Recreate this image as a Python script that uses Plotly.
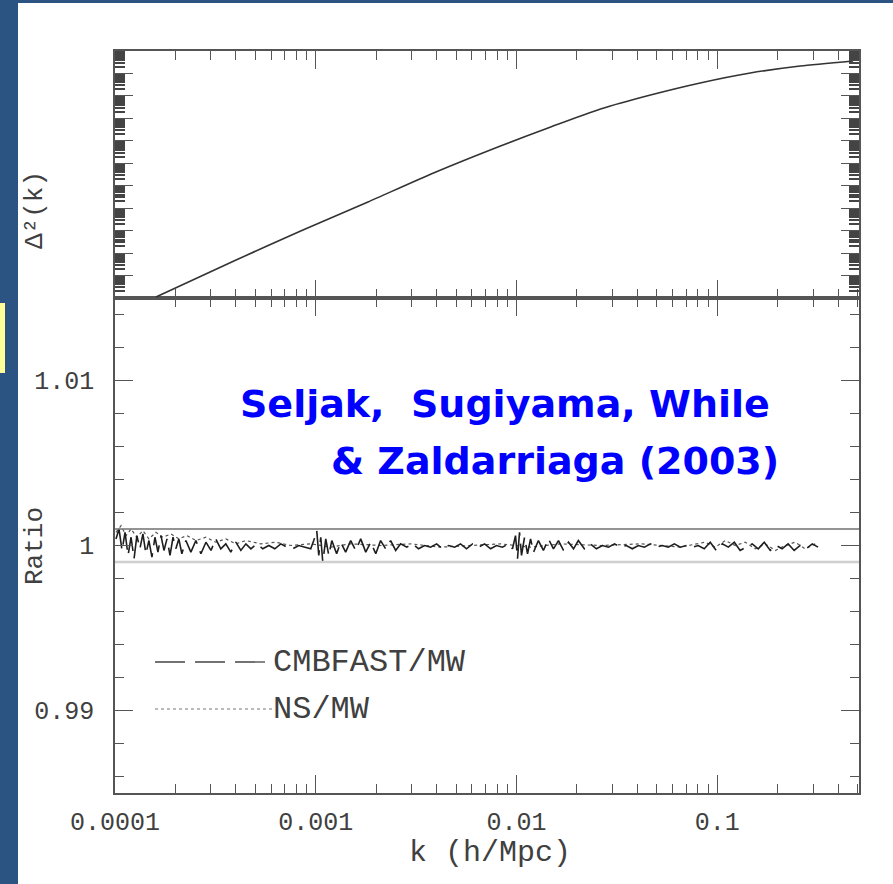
import numpy as np
import plotly.graph_objects as go

# ---------------- data ----------------
# Upper panel: dimensionless power spectrum Delta^2(k)
pk_k = [1.60e-4, 3.91e-4, 8.41e-4, 1.82e-3, 3.86e-3, 8.32e-3, 1.48e-2,
        2.62e-2, 4.65e-2, 8.22e-2, 0.146, 0.259, 0.475]
pk_delta2 = [1.11e-10, 4.45e-9, 9.64e-8, 1.89e-6, 3.70e-5, 5.90e-4, 4.14e-3,
             0.0262, 0.110, 0.378, 1.05, 2.16, 3.61]

# Lower panel: CMBFAST/MW ratio (log10 k, deviation from 1 in units of 1e-4)
cmb_logk = [
    -3.995, -3.980, -3.965, -3.950, -3.935, -3.920, -3.905, -3.891, -3.876, -3.861,
    -3.846, -3.831, -3.816, -3.801, -3.786, -3.771, -3.756, -3.741, -3.726, -3.711,
    -3.697, -3.682, -3.667, -3.647, -3.622, -3.597, -3.572, -3.547, -3.522, -3.498,
    -3.473, -3.448, -3.423, -3.398, -3.373, -3.348, -3.323, -3.294, -3.264, -3.234,
    -3.204, -3.174, -3.144, -3.114, -3.085, -3.055, -3.025, -3.010, -2.995, -2.985,
    -2.975, -2.965, -2.950, -2.935, -2.920, -2.896, -2.876, -2.851, -2.826, -2.801,
    -2.776, -2.751, -2.726, -2.701, -2.677, -2.652, -2.627, -2.602, -2.577, -2.547,
    -2.517, -2.488, -2.458, -2.428, -2.398, -2.368, -2.338, -2.308, -2.279, -2.249,
    -2.219, -2.189, -2.159, -2.129, -2.100, -2.070, -2.040, -2.020, -2.005, -1.995,
    -1.985, -1.975, -1.960, -1.945, -1.930, -1.915, -1.891, -1.866, -1.841, -1.816,
    -1.791, -1.766, -1.741, -1.716, -1.692, -1.662, -1.632, -1.602, -1.572, -1.542,
    -1.512, -1.483, -1.453, -1.423, -1.393, -1.363, -1.333, -1.303, -1.274, -1.244,
    -1.214, -1.184, -1.154, -1.124, -1.095, -1.065, -1.035, -1.005, -0.975, -0.945,
    -0.915, -0.886, -0.856, -0.826, -0.796, -0.766, -0.736, -0.706, -0.677, -0.647,
    -0.617, -0.587, -0.557, -0.527, -0.498]
cmb_dev = [
    4, 10, -3, 8, -6, 5, -8, 6, -2, 7,
    -5, 3, -7, 5, -4, 6, -3, 4, -6, 5,
    -2, 4, -5, 3, -4, 3, -5, 2, -3, 4,
    -2, 1, -4, 2, -3, 1, -2, 1, -2, 0,
    -2, 1, -1, -2, 0, -1, -2, 3, 9, -6,
    5, -10, 4, -6, 3, -5, 2, -4, 3, -3,
    4, -4, 2, -5, 3, -2, 3, -3, 1, -1,
    1, -2, 0, -1, 1, -2, 0, -1, 1, -2,
    1, -1, 1, -2, 0, -1, 1, -2, 6, -8,
    8, -6, 5, -5, 4, -4, 3, -3, 4, -2,
    3, -3, 2, -2, 3, -2, 1, -2, 0, -1,
    1, -1, 0, -2, 0, -1, 1, -1, 0, -1,
    1, -1, 0, -1, 0, -2, 2, -3, 1, -1,
    2, -3, -1, 1, -2, 2, -3, 0, -2, 1,
    -3, 0, -2, 1, -1]

# Lower panel: NS/MW ratio
ns_logk = [-3.995, -3.970, -3.945, -3.920, -3.891, -3.861, -3.831, -3.796, -3.761, -3.721,
           -3.682, -3.642, -3.597, -3.547, -3.498, -3.448, -3.398, -3.348, -3.274, -3.199,
           -3.124, -3.025, -2.925, -2.826, -2.677, -2.527, -2.378, -2.229, -2.080, -1.930,
           -1.781, -1.582, -1.383, -1.184, -1.060, -1.010, -0.960, -0.910, -0.861, -0.811,
           -0.761, -0.711, -0.662, -0.612, -0.562, -0.512]
ns_dev = [8, 12, 6, 10, 5, 9, 4, 8, 5, 7,
          4, 6, 3, 5, 2, 4, 1, 3, 1, 2,
          0, 1, -1, 1, 0, 1, -1, 0, 1, -1,
          1, 0, 1, -1, 2, -1, 3, 0, 2, -2,
          1, -3, 0, 2, -2, 1]

ratio_band = [0.999, 1.001]

x_ticks = [1e-4, 1e-3, 1e-2, 1e-1]
x_ticktext = ["0.0001", "0.001", "0.01", "0.1"]
ratio_ticks = [0.99, 1.0, 1.01]
ratio_ticktext = ["0.99", "1", "1.01"]

# ---------------- figure ----------------
W, H = 893, 884
L, R, T, B = 115, 34, 51, 91
pw, ph = W - L - R, H - T - B
split = 495 / ph  # fraction of the plotting height for the ratio panel

def px(xp):
    return (xp - L) / pw

def py(yp):
    return (H - B - yp) / ph

axis_col = "#555555"
text_col = "#404040"
mono = "Liberation Mono"

fig = go.Figure()

fig.add_trace(go.Scatter(
    x=pk_k, y=pk_delta2, xaxis="x2", yaxis="y2", mode="lines",
    line=dict(color="#333333", width=1.6, shape="spline", smoothing=0.6), showlegend=False))

fig.add_trace(go.Scatter(
    x=np.power(10.0, ns_logk), y=1 + np.array(ns_dev) * 1e-4, mode="lines",
    line=dict(color="#555555", width=1.2, dash="dot"), showlegend=False))

fig.add_trace(go.Scatter(
    x=np.power(10.0, cmb_logk), y=1 + np.array(cmb_dev) * 1e-4, mode="lines",
    line=dict(color="#1e1e1e", width=1.6, dash="30px,8px"), showlegend=False))

x_minor = [m * 10.0 ** e for e in range(-4, 0) for m in range(2, 10)]
y2_major = [10.0 ** e for e in range(-10, 2)]
y2_minor = [m * 10.0 ** e for e in range(-10, 1) for m in range(2, 10)]
ratio_minor = [round(0.986 + 0.002 * i, 3) for i in range(15)]

common_axis = dict(showline=True, linecolor=axis_col, linewidth=1.5, mirror="ticks",
                   ticks="inside", tickcolor=axis_col, tickwidth=1.2, showgrid=False,
                   zeroline=False)

xrange_log = [-4, -0.294]

fig.update_layout(
    width=W, height=H,
    margin=dict(l=L, r=R, t=T, b=B),
    paper_bgcolor="#2c5483",
    plot_bgcolor="white",
    xaxis=dict(type="log", range=xrange_log, anchor="y",
               tickmode="array", tickvals=x_ticks, ticktext=x_ticktext, ticklen=18,
               ticklabelstandoff=5,
               tickfont=dict(family=mono, size=25, color=text_col),
               minor=dict(tickmode="array", tickvals=x_minor, ticks="inside", ticklen=9,
                          tickcolor=axis_col, tickwidth=1.2),
               **common_axis),
    yaxis=dict(range=[0.985, 1.015], domain=[0, split], anchor="x",
               tickmode="array", tickvals=ratio_ticks, ticktext=ratio_ticktext, ticklen=18,
               ticklabelstandoff=14,
               tickfont=dict(family=mono, size=25, color=text_col),
               minor=dict(tickmode="array", tickvals=ratio_minor, ticks="inside", ticklen=9,
                          tickcolor=axis_col, tickwidth=1.2),
               **common_axis),
    xaxis2=dict(type="log", range=xrange_log, anchor="y2", matches="x",
                tickmode="array", tickvals=x_ticks, showticklabels=False, ticklen=18,
                minor=dict(tickmode="array", tickvals=x_minor, ticks="inside", ticklen=9,
                           tickcolor=axis_col, tickwidth=1.2),
                **common_axis),
    yaxis2=dict(type="log", range=[-10, 1], domain=[split, 1], anchor="x2",
                tickmode="array", tickvals=y2_major, showticklabels=False, ticklen=18,
                minor=dict(tickmode="array", tickvals=y2_minor, ticks="inside", ticklen=10,
                           tickcolor="#444444", tickwidth=1.5),
                **common_axis),
)

shapes = [
    # white slide panel
    dict(type="rect", xref="paper", yref="paper", x0=px(18), x1=px(900), y0=py(890), y1=py(3),
         fillcolor="white", line=dict(width=0), layer="below"),
    # yellow marker on the slide edge
    dict(type="rect", xref="paper", yref="paper", x0=px(-2), x1=px(5), y0=py(373), y1=py(303),
         fillcolor="#ffff99", line=dict(width=0), layer="below"),
    # +/-0.1% reference lines
    dict(type="line", xref="x domain", yref="y", x0=0, x1=1, y0=ratio_band[1], y1=ratio_band[1],
         line=dict(color="#707070", width=1.3)),
    dict(type="line", xref="x domain", yref="y", x0=0, x1=1, y0=ratio_band[0], y1=ratio_band[0],
         line=dict(color="#cfcfcf", width=2.5)),
    # legend samples
    dict(type="line", xref="paper", yref="paper", x0=px(155), x1=px(270), y0=py(662), y1=py(662),
         line=dict(color="#444444", width=1.3, dash="30px,10px")),
    dict(type="line", xref="paper", yref="paper", x0=px(155), x1=px(272), y0=py(709), y1=py(709),
         line=dict(color="#777777", width=1.2, dash="dot")),
]
fig.update_layout(shapes=shapes)

annotations = [
    dict(text="CMBFAST/MW", x=px(271), y=py(662), xanchor="left", yanchor="middle",
         font=dict(family=mono, size=32, color=text_col)),
    dict(text="NS/MW", x=px(271), y=py(709), xanchor="left", yanchor="middle",
         font=dict(family=mono, size=32, color=text_col)),
    dict(text="k (h/Mpc)", x=px(490), y=py(853), xanchor="center", yanchor="middle",
         font=dict(family=mono, size=30, color=text_col)),
    dict(text="Ratio", x=px(35), y=py(546), xanchor="center", yanchor="middle", textangle=-90,
         font=dict(family=mono, size=26, color=text_col)),
    dict(text="Δ²(k)", x=px(35), y=py(210), xanchor="center", yanchor="middle", textangle=-90,
         font=dict(family=mono, size=26, color=text_col)),
    dict(text="Seljak,&nbsp; Sugiyama, While", x=px(238), y=py(404), xanchor="left",
         yanchor="middle", font=dict(family="DejaVu Sans", size=38, color="#0000ff", weight="bold")),
    dict(text="&amp; Zaldarriaga (2003)", x=px(329), y=py(461), xanchor="left",
         yanchor="middle", font=dict(family="DejaVu Sans", size=38, color="#0000ff", weight="bold")),
]
for a in annotations:
    a.update(xref="paper", yref="paper", showarrow=False)
fig.update_layout(annotations=annotations)

fig.write_html("out.html")
